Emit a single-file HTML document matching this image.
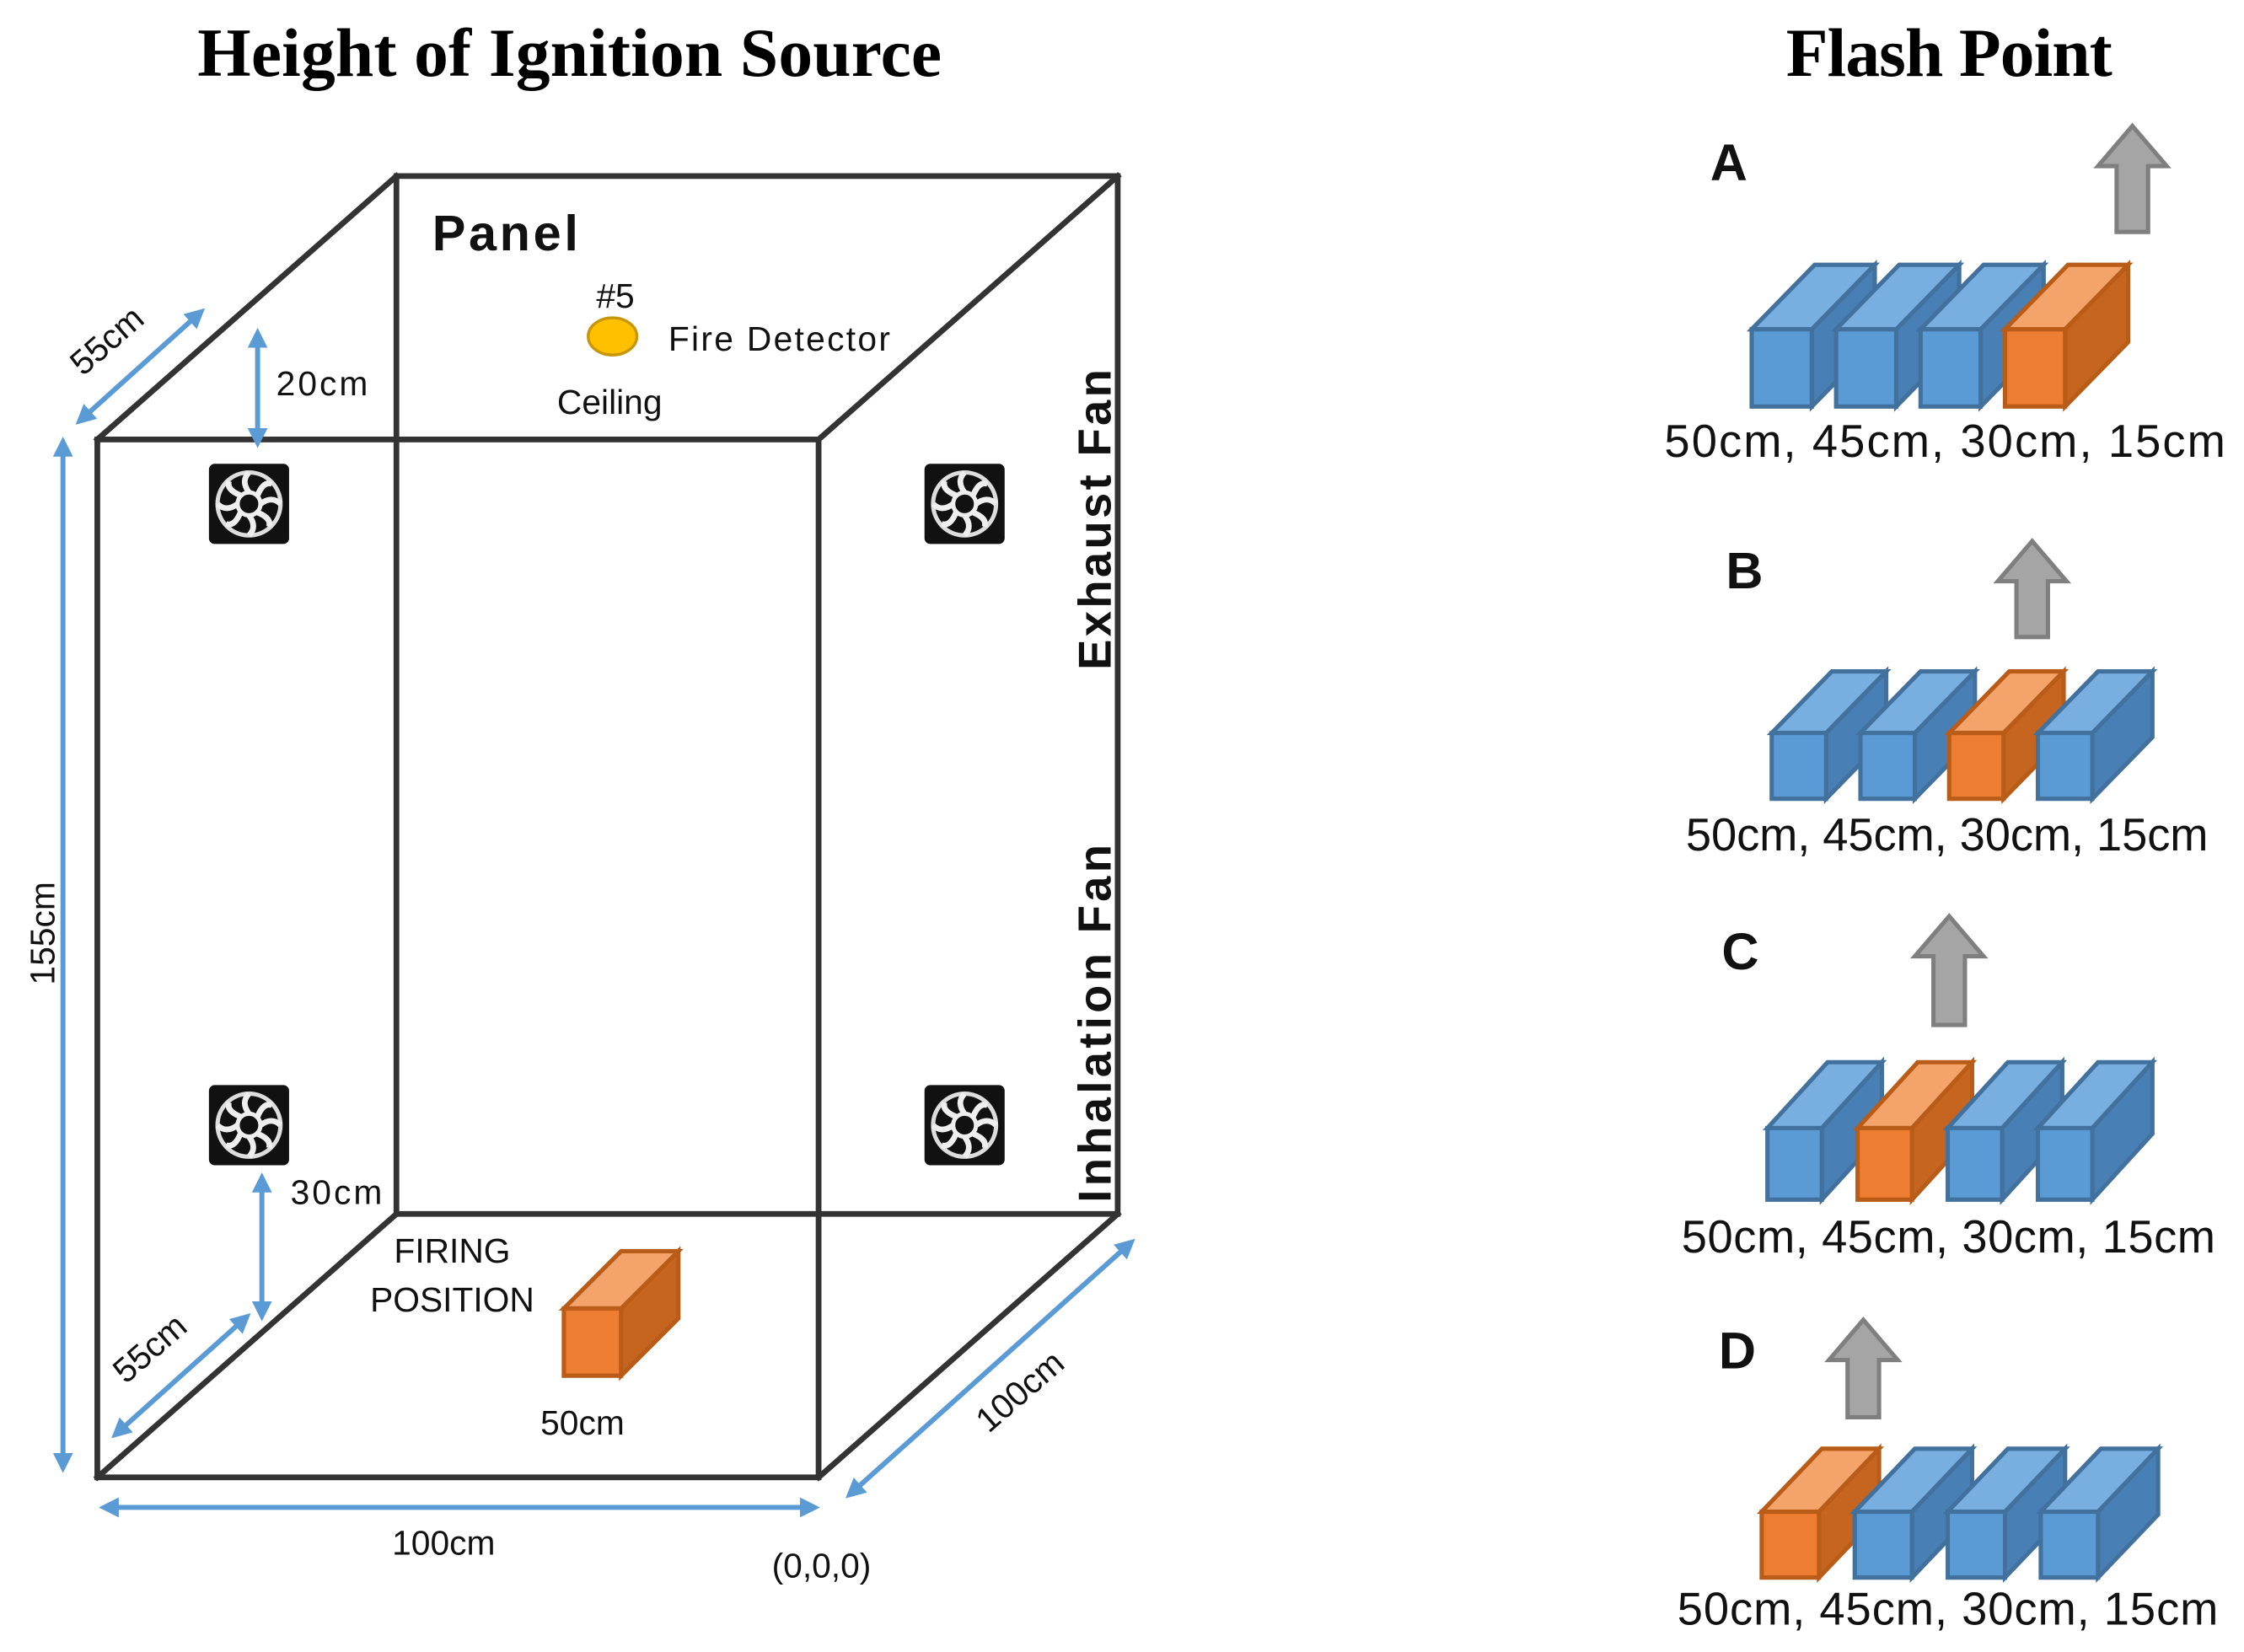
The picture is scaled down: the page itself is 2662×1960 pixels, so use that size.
<!DOCTYPE html>
<html><head><meta charset="utf-8"><style>
html,body{margin:0;padding:0;background:#fff;}
svg{display:block;}
.t{font-family:"Liberation Sans",sans-serif;fill:#111;}
</style></head><body>
<svg id="s" width="2662" height="1960" viewBox="0 0 1568 1154" preserveAspectRatio="none" xmlns="http://www.w3.org/2000/svg">
<defs>
<marker id="ah" viewBox="0 0 10 10" refX="5" refY="5" markerWidth="4" markerHeight="4" orient="auto-start-reverse"><path d="M0,0 L10,5 L0,10 z" fill="#5b9bd5"/></marker>
<g id="fan">
<rect x="0" y="0" width="56" height="56" rx="4" fill="#111"/>
<circle cx="28" cy="28" r="22" fill="none" stroke="#ddd" stroke-width="3"/>
<circle cx="28" cy="28" r="8" fill="#111" stroke="#eee" stroke-width="3"/>
<g stroke="#eee" stroke-width="4" fill="none">
<path d="M28,20 Q22,12 28,6"/><path d="M36,28 Q44,22 50,28"/><path d="M28,36 Q34,44 28,50"/><path d="M20,28 Q12,34 6,28"/>
<path d="M34,22 Q38,12 44,14"/><path d="M34,34 Q44,38 42,44"/><path d="M22,34 Q18,44 12,42"/><path d="M22,22 Q12,18 14,12"/>
</g>
</g>
</defs>
<text x="398" y="53" text-anchor="middle" textLength="520" style="font-family:'Liberation Serif',serif;font-weight:bold;font-size:48px">Height of Ignition Source</text>
<text x="1362" y="53" text-anchor="middle" textLength="228" style="font-family:'Liberation Serif',serif;font-weight:bold;font-size:48px">Flash Point</text>

<g stroke="#333" stroke-width="4" fill="none" stroke-linecap="square">
<rect x="68" y="307" width="504" height="725"/>
<path d="M277,123 H781 V848 H277 Z"/>
<path d="M68,307 L277,123 M572,307 L781,123 M68,1032 L277,848 M572,1032 L781,848"/>
</g>

<use href="#fan" x="146" y="324"/>
<use href="#fan" x="646" y="324"/>
<use href="#fan" x="146" y="758"/>
<use href="#fan" x="646" y="758"/>

<g stroke="#5b9bd5" stroke-width="3.5" marker-start="url(#ah)" marker-end="url(#ah)">
<line x1="58" y1="292" x2="138" y2="220"/>
<line x1="180" y1="236" x2="180" y2="306"/>
<line x1="44" y1="312" x2="44" y2="1022"/>
<line x1="183" y1="826" x2="183" y2="916"/>
<line x1="83" y1="1000" x2="170" y2="922"/>
<line x1="76" y1="1053" x2="566" y2="1053"/>
<line x1="596" y1="1042" x2="788" y2="870"/>
</g>

<g class="t" style="font-size:24px">
<text x="80" y="244" transform="rotate(-41 80 244)" text-anchor="middle">55cm</text>
<text x="193" y="276" textLength="64">20cm</text>
<text x="38" y="652" transform="rotate(-90 38 652)" text-anchor="middle">155cm</text>
<text x="203" y="841" textLength="64">30cm</text>
<text x="110" y="948" transform="rotate(-41 110 948)" text-anchor="middle">55cm</text>
<text x="310" y="1086" text-anchor="middle">100cm</text>
<text x="718" y="978" transform="rotate(-41 718 978)" text-anchor="middle">100cm</text>
<text x="574" y="1102" text-anchor="middle">(0,0,0)</text>
<text x="407" y="1002" text-anchor="middle">50cm</text>
<text x="316" y="882" text-anchor="middle">FIRING</text>
<text x="316" y="916" text-anchor="middle">POSITION</text>
<text x="430" y="215" text-anchor="middle">#5</text>
<text x="467" y="245" textLength="155">Fire Detector</text>
<text x="426" y="289" text-anchor="middle">Ceiling</text>
</g>
<text class="t" x="302" y="175" textLength="102" style="font-size:35px;font-weight:bold">Panel</text>
<ellipse cx="428" cy="235" rx="17" ry="13" fill="#ffc000" stroke="#c8960a" stroke-width="2"/>
<text class="t" x="776" y="363" transform="rotate(-90 776 363)" text-anchor="middle" textLength="210" style="font-size:32px;font-weight:bold">Exhaust Fan</text>
<text class="t" x="776" y="715" transform="rotate(-90 776 715)" text-anchor="middle" textLength="250" style="font-size:32px;font-weight:bold">Inhalation Fan</text>

<g class="t" style="font-size:36px;font-weight:bold">
<text x="1208" y="126" text-anchor="middle">A</text>
<text x="1219" y="411" text-anchor="middle">B</text>
<text x="1216" y="677" text-anchor="middle">C</text>
<text x="1214" y="956" text-anchor="middle">D</text>
</g>
<g class="t" style="font-size:32px">
<text x="1163" y="319" textLength="392">50cm,  45cm,  30cm,  15cm</text>
<text x="1178" y="594" textLength="365">50cm,  45cm,  30cm,  15cm</text>
<text x="1175" y="875" textLength="373">50cm,  45cm,  30cm,  15cm</text>
<text x="1172" y="1135" textLength="378">50cm,  45cm,  30cm,  15cm</text>
</g>
<g id="cubes"></g>
</svg>
<script>
var g=document.getElementById('cubes'),NS='http://www.w3.org/2000/svg';
function poly(pts,fill,stroke){var p=document.createElementNS(NS,'polygon');p.setAttribute('points',pts.map(function(a){return a.join(',')}).join(' '));p.setAttribute('fill',fill);p.setAttribute('stroke',stroke);p.setAttribute('stroke-width','3');p.setAttribute('stroke-linejoin','miter');g.appendChild(p);}
function cube(x,y,w,h,dx,dy,o){
 var front=o?'#ed7d31':'#5b9bd5',top=o?'#f4a46a':'#79aee0',side=o?'#c5651f':'#487fb5',st=o?'#b85c18':'#41719c';
 poly([[x+w,y],[x+w+dx,y+dy],[x+w+dx,y+h+dy],[x+w,y+h]],side,st);
 poly([[x,y],[x+dx,y+dy],[x+w+dx,y+dy],[x+w,y]],top,st);
 poly([[x,y],[x+w,y],[x+w,y+h],[x,y+h]],front,st);
}
function arrow(cx,y1,y2){
 var p=document.createElementNS(NS,'polygon');
 p.setAttribute('points',[cx-11,y2,cx-11,y1+28,cx-24,y1+28,cx,y1,cx+24,y1+28,cx+11,y1+28,cx+11,y2].reduce(function(a,v,i){return a+(i%2?','+v+' ':v)},''));
 p.setAttribute('fill','#a5a5a5');p.setAttribute('stroke','#7f7f7f');p.setAttribute('stroke-width','3');g.appendChild(p);
}
function row(x0,y,w,h,dx,dy,sp,oi){for(var i=0;i<4;i++)cube(x0+i*sp,y,w,h,dx,dy,i===oi);}
row(1224,230,42,54,44,-45,59,3);
row(1238,512,38,46,42,-43,62,2);
row(1235,788,38,50,42,-46,63,1);
row(1231,1056,40,46,42,-44,65,0);
arrow(1490,88,162);
arrow(1420,378,445);
arrow(1362,640,716);
arrow(1302,922,990);
cube(394,914,40,47,40,-40,true);
</script>
</body></html>
